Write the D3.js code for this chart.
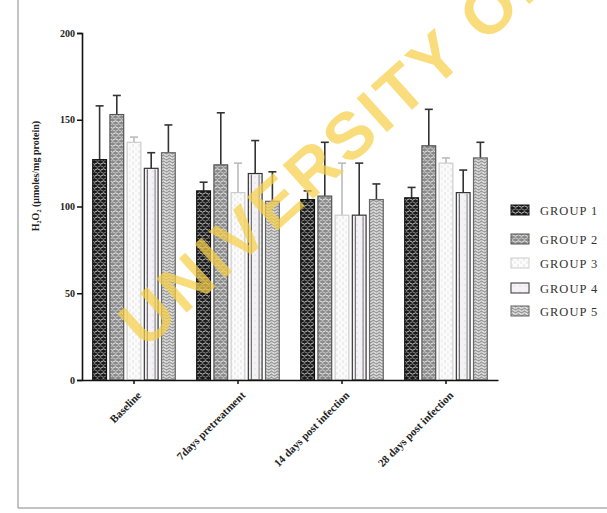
<!DOCTYPE html>
<html><head><meta charset="utf-8">
<script src="https://cdn.jsdelivr.net/npm/d3@7"></script>
<style>body{margin:0;background:#fff}svg{display:block}</style>
</head><body>
<script>
const categories = ["Baseline", "7days pretreatment", "14 days post infection", "28 days post infection"];
const groups = ["GROUP 1", "GROUP 2", "GROUP 3", "GROUP 4", "GROUP 5"];
const group1 = [127, 109, 104, 105];
const group2 = [153, 124, 106, 135];
const group3 = [137, 108, 95, 125];
const group4 = [122, 119, 95, 108];
const group5 = [131, 103, 104, 128];
const err1 = [31, 5, 5, 6];
const err2 = [11, 30, 31, 21];
const err3 = [3, 17, 30, 3];
const err4 = [9, 19, 30, 13];
const err5 = [16, 17, 9, 9];
const yTicks = [0, 50, 100, 150, 200];
const yLabel = "H\u2082O\u2082 (\u03bcmoles/mg protein)";

const W = 607, H = 513;
const svg = d3.select("body").append("svg").attr("width", W).attr("height", H);
const defs = svg.append("defs");

function pat(id, bg, draw) {
  const p = defs.append("pattern").attr("id", id).attr("patternUnits", "userSpaceOnUse")
    .attr("width", 6).attr("height", 6);
  p.append("rect").attr("width", 6).attr("height", 6).attr("fill", bg);
  draw(p);
}
pat("p1", "#1a1a1a", p => {
  p.append("path").attr("d", "M0,1.5 Q1.5,0 3,1.5 T6,1.5").attr("stroke", "#ddd").attr("stroke-width", 0.9).attr("fill", "none");
  p.append("path").attr("d", "M0,4.5 Q1.5,6 3,4.5 T6,4.5").attr("stroke", "#bbb").attr("stroke-width", 0.7).attr("fill", "none");
});
pat("p2", "#8a8a8a", p => {
  p.append("path").attr("d", "M0,1.5 Q1.5,0 3,1.5 T6,1.5").attr("stroke", "#eee").attr("stroke-width", 1).attr("fill", "none");
  p.append("path").attr("d", "M0,4.5 Q1.5,6 3,4.5 T6,4.5").attr("stroke", "#ddd").attr("stroke-width", 0.8).attr("fill", "none");
});
pat("p3", "#fbfbfb", p => {
  p.append("line").attr("x1", 1).attr("x2", 1).attr("y1", 0).attr("y2", 3).attr("stroke", "#ccc").attr("stroke-width", 0.6);
  p.append("line").attr("x1", 4).attr("x2", 4).attr("y1", 3).attr("y2", 6).attr("stroke", "#d8d8d8").attr("stroke-width", 0.6);
});
pat("p4", "#f4f2f6", p => {
  p.append("circle").attr("cx", 3).attr("cy", 3).attr("r", 0.5).attr("fill", "#bbb");
});
pat("p5", "#9a9a9a", p => {
  p.append("path").attr("d", "M0,1.5 Q1.5,0 3,1.5 T6,1.5").attr("stroke", "#f0f0f0").attr("stroke-width", 1.1).attr("fill", "none");
  p.append("path").attr("d", "M0,4.5 Q1.5,3 3,4.5 T6,4.5").attr("stroke", "#e8e8e8").attr("stroke-width", 1.1).attr("fill", "none");
});
const fills = ["url(#p1)", "url(#p2)", "url(#p3)", "url(#p4)", "url(#p5)"];
const strokes = ["#111", "#555", "#ccc", "#333", "#666"];

svg.append("line").attr("x1", 18).attr("x2", 18).attr("y1", 0).attr("y2", 508).attr("stroke", "#888").attr("stroke-width", 1);
svg.append("line").attr("x1", 18).attr("x2", W).attr("y1", 508).attr("y2", 508).attr("stroke", "#888").attr("stroke-width", 1);

const x0 = d3.scaleBand().domain(categories).range([82, 498]).paddingInner(0).paddingOuter(0);
const x1 = d3.scaleBand().domain(groups).range([9, x0.bandwidth() - 9]).paddingInner(0.2).paddingOuter(0.1);
const y = d3.scaleLinear().domain([0, 200]).range([380, 33]);

const vals = [group1, group2, group3, group4, group5];
const errs = [err1, err2, err3, err4, err5];
const data = [];
categories.forEach((c, i) => groups.forEach((g, j) => data.push({ c, g, j, v: vals[j][i], e: errs[j][i] })));

const g = svg.append("g");
g.selectAll("line.err").data(data).enter().append("line")
  .attr("x1", d => x0(d.c) + x1(d.g) + x1.bandwidth() / 2)
  .attr("x2", d => x0(d.c) + x1(d.g) + x1.bandwidth() / 2)
  .attr("y1", d => y(d.v)).attr("y2", d => y(d.v + d.e))
  .attr("stroke", d => d.j === 2 ? "#bbb" : "#333").attr("stroke-width", 1.6);
g.selectAll("line.cap").data(data).enter().append("line")
  .attr("x1", d => x0(d.c) + x1(d.g) + x1.bandwidth() / 2 - 4)
  .attr("x2", d => x0(d.c) + x1(d.g) + x1.bandwidth() / 2 + 4)
  .attr("y1", d => y(d.v + d.e)).attr("y2", d => y(d.v + d.e))
  .attr("stroke", d => d.j === 2 ? "#bbb" : "#333").attr("stroke-width", 1.6);
g.selectAll("rect.bar").data(data).enter().append("rect")
  .attr("x", d => x0(d.c) + x1(d.g)).attr("width", x1.bandwidth())
  .attr("y", d => y(d.v)).attr("height", d => y(0) - y(d.v))
  .attr("fill", d => fills[d.j]).attr("stroke", d => strokes[d.j]).attr("stroke-width", 1.2);
g.selectAll("line.g4").data(data.filter(d => d.j === 3)).enter().append("line")
  .attr("x1", d => x0(d.c) + x1(d.g) + 3).attr("x2", d => x0(d.c) + x1(d.g) + 3)
  .attr("y1", d => y(d.v) + 1).attr("y2", y(0))
  .attr("stroke", "#555").attr("stroke-width", 1);
g.selectAll("line.g4b").data(data.filter(d => d.j === 3)).enter().append("line")
  .attr("x1", d => x0(d.c) + x1(d.g) + x1.bandwidth() - 3).attr("x2", d => x0(d.c) + x1(d.g) + x1.bandwidth() - 3)
  .attr("y1", d => y(d.v) + 1).attr("y2", y(0))
  .attr("stroke", "#777").attr("stroke-width", 1);

const yAxis = svg.append("g").attr("transform", "translate(82,0)")
  .call(d3.axisLeft(y).tickValues(yTicks).tickSize(5).tickPadding(2));
yAxis.select(".domain").attr("stroke", "#111").attr("stroke-width", 1.6);
yAxis.selectAll(".tick line").attr("stroke", "#111").attr("stroke-width", 1.5);
yAxis.selectAll(".tick text").attr("font-family", "Liberation Serif").attr("font-size", 10).attr("font-weight", "bold").attr("fill", "#222");

const xAxis = svg.append("g").attr("transform", "translate(0,380)")
  .call(d3.axisBottom(x0).tickSize(4).tickSizeOuter(0).tickFormat(""));
xAxis.select(".domain").attr("stroke", "#111").attr("stroke-width", 1.6);
xAxis.selectAll(".tick line").attr("stroke", "#111").attr("stroke-width", 1.5);

svg.append("g").selectAll("text").data(categories).enter().append("text")
  .attr("transform", d => `translate(${x0(d) + x0.bandwidth() / 2 + 8},396) rotate(-45)`)
  .attr("text-anchor", "end")
  .attr("font-family", "Liberation Serif").attr("font-size", 11).attr("font-weight", "bold").attr("fill", "#222")
  .text(d => d);

svg.append("text")
  .attr("transform", "translate(39,176) rotate(-90)")
  .attr("text-anchor", "middle")
  .attr("font-family", "Liberation Serif").attr("font-size", 10).attr("font-weight", "bold").attr("fill", "#222")
  .text(yLabel);

const legY = [211, 240, 264, 289, 312];
const leg = svg.append("g").selectAll("g").data(groups).enter().append("g")
  .attr("transform", (d, i) => `translate(511,${legY[i]})`);
leg.append("rect").attr("x", 0).attr("y", -6).attr("width", 18).attr("height", 10)
  .attr("fill", (d, i) => fills[i]).attr("stroke", (d, i) => strokes[i]).attr("stroke-width", 1);
leg.append("text").attr("x", 29).attr("y", 4)
  .attr("font-family", "Liberation Serif").attr("font-size", 12.5).attr("fill", "#333").attr("letter-spacing", 1)
  .text(d => d);

svg.append("text")
  .attr("transform", "translate(145,350) rotate(-42)")
  .attr("font-family", "Liberation Sans").attr("font-weight", "bold").attr("font-size", 66)
  .attr("fill", "#f6d04a").attr("fill-opacity", 0.72).attr("letter-spacing", 4)
  .text("UNIVERSITY OF IBADAN");
</script>
</body></html>
